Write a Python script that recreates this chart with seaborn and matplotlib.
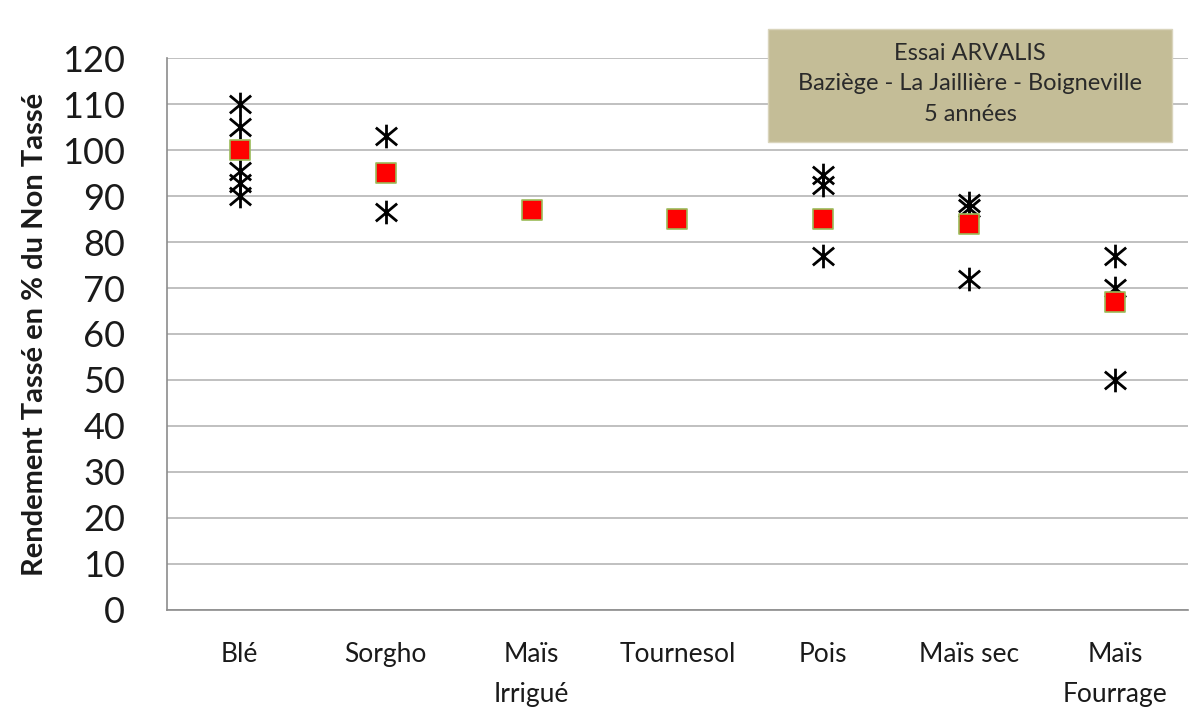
import numpy as np
import pandas as pd
import matplotlib
matplotlib.use("Agg")
import matplotlib.pyplot as plt
from matplotlib.path import Path
from matplotlib.patches import Rectangle
import seaborn as sns

# categories and values
cultures = ["Blé", "Sorgho", "Maïs\nIrrigué", "Tournesol", "Pois", "Maïs sec", "Maïs\nFourrage"]
moyennes = [100, 95, 87, 85, 85, 84, 67]
essais_cult = ["Blé"] * 5 + ["Sorgho"] * 2 + ["Pois"] * 3 + ["Maïs sec"] * 3 + ["Maïs\nFourrage"] * 3
essais_val = [110, 105, 95.5, 92.8, 90,
              103, 86.5,
              94.5, 92.5, 77,
              88.5, 87.5, 72,
              77, 70, 50]
y_ticks = list(range(0, 121, 10))

df_essais = pd.DataFrame({"culture": essais_cult, "rendement": essais_val})
df_moy = pd.DataFrame({"culture": cultures, "rendement": moyennes})

# Excel style star: an X with a vertical bar
star = Path([(0, -1), (0, 1), (-0.9, -0.75), (0.9, 0.75), (-0.9, 0.75), (0.9, -0.75)],
            [Path.MOVETO, Path.LINETO, Path.MOVETO, Path.LINETO, Path.MOVETO, Path.LINETO])

sns.set_style("white")
plt.rcParams['font.family'] = ['Lato', 'DejaVu Sans']

fig = plt.figure(figsize=(12, 7.19), dpi=100)
ax = fig.add_axes([0.139, 0.152, 0.851, 0.767])

sns.stripplot(data=df_essais, x="culture", y="rendement", order=cultures, jitter=False,
              marker=star, s=17, color="black", linewidth=2, edgecolor="black", ax=ax, zorder=3)
sns.stripplot(data=df_moy, x="culture", y="rendement", order=cultures, jitter=False,
              marker="s", s=14, color="#ff0000", linewidth=1.2, edgecolor="#9bbb59", ax=ax, zorder=4)

ax.set_ylim(0, 120)
ax.set_xlim(-0.5, len(cultures) - 0.5)
ax.set_yticks(y_ticks)
ax.yaxis.grid(True, color="#c0c0c0", linewidth=1.4)
ax.set_axisbelow(True)
for s in ["top", "right"]:
    ax.spines[s].set_visible(False)
for s in ["left", "bottom"]:
    ax.spines[s].set_color("#8c8c8c")
    ax.spines[s].set_linewidth(1.2)

ax.tick_params(axis="y", labelsize=26, labelcolor="#1a1a1a", length=11, width=1.2,
               color="#8c8c8c", direction="out", pad=19)
ax.set_xticks(range(len(cultures)))
ax.set_xticklabels(cultures, linespacing=1.75)
ax.tick_params(axis="x", which="major", labelsize=19, labelcolor="#1a1a1a", length=0, pad=23)
ax.set_xticks(np.arange(-0.5, len(cultures)), minor=True)
ax.tick_params(axis="x", which="minor", length=7, width=1.2, color="#8c8c8c", direction="out")
ax.set_xlabel("")
ax.set_ylabel("Rendement Tassé en % du Non Tassé", fontsize=21, fontweight="bold",
              color="#1a1a1a", labelpad=10)

# annotation box
fig.patches.append(Rectangle((768 / 1200, 1 - 142 / 719), 404 / 1200, 113 / 719,
                             transform=fig.transFigure, facecolor="#c4bd97",
                             edgecolor="#d9d4bc", linewidth=1, zorder=5))
fig.text(970 / 1200, 1 - 84 / 719, "Essai ARVALIS\nBaziège - La Jaillière - Boigneville\n5 années",
         ha="center", va="center", fontsize=17, color="#2a2a2a", linespacing=1.55, zorder=6)

fig.savefig("out.png", dpi=100)
